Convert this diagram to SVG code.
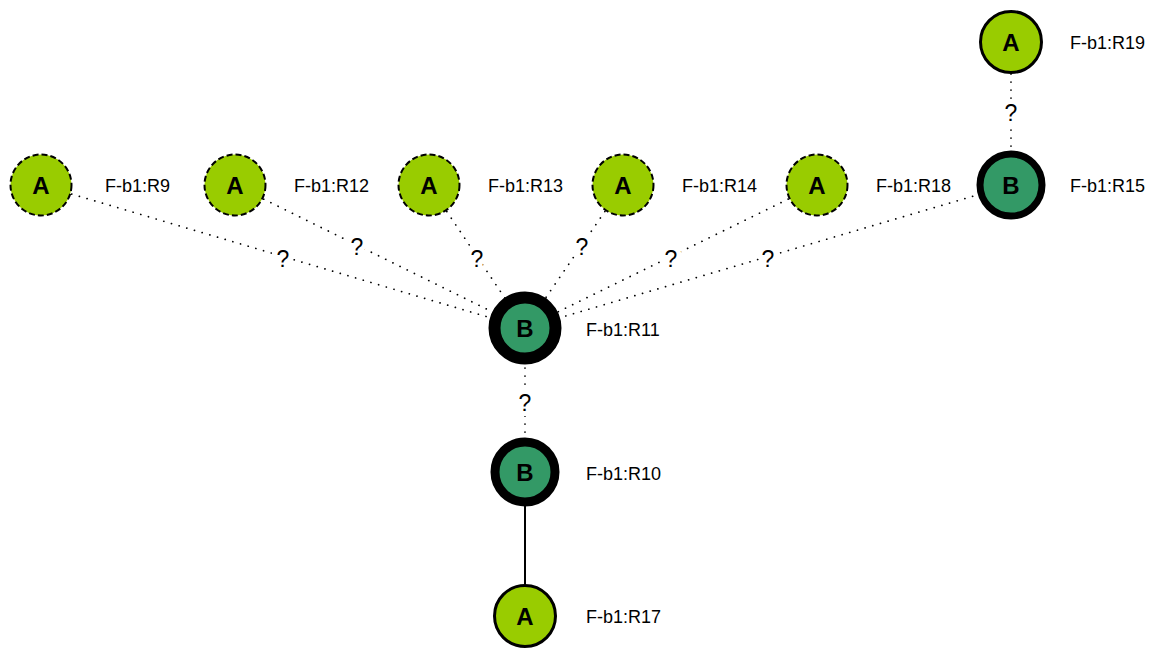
<svg xmlns="http://www.w3.org/2000/svg" width="1158" height="651" viewBox="0 0 1158 651">
<style>
.dot{stroke:#000;stroke-width:1.7;stroke-dasharray:0.1 7.9;stroke-linecap:round;fill:none}
.solid{stroke:#000;stroke-width:2;fill:none}
.q{font-family:"Liberation Sans",Arial,sans-serif;font-size:23px;text-anchor:middle;fill:#000;stroke:#fff;stroke-width:10;paint-order:stroke;stroke-linejoin:round}
.lbl{font-family:"Liberation Sans",Arial,sans-serif;font-size:18px;fill:#000}
.ltr{font-family:"Liberation Sans",Arial,sans-serif;font-size:24px;font-weight:bold;text-anchor:middle;fill:#000}
.a{fill:#99cc00;stroke:#000;stroke-width:3}
.ad{fill:#99cc00;stroke:#000;stroke-width:2;stroke-dasharray:6 3}
.b{fill:#339966;stroke:#000}
</style>
<rect width="1158" height="651" fill="#fff"/>
<g id="connectors">
<line class="dot" x1="41" y1="185" x2="525" y2="328"/>
<line class="dot" x1="235" y1="185" x2="525" y2="328"/>
<line class="dot" x1="429" y1="185" x2="525" y2="328"/>
<line class="dot" x1="623" y1="185" x2="525" y2="328"/>
<line class="dot" x1="817" y1="185" x2="525" y2="328"/>
<line class="dot" x1="1011" y1="185" x2="525" y2="328"/>
<line class="dot" x1="525" y1="328" x2="525" y2="472"/>
<line class="dot" x1="1011" y1="42" x2="1011" y2="185"/>
<line class="solid" x1="525" y1="472" x2="525" y2="616"/>
<text class="q" x="283" y="267">?</text>
<text class="q" x="357" y="255">?</text>
<text class="q" x="477" y="267">?</text>
<text class="q" x="582" y="255">?</text>
<text class="q" x="671" y="267">?</text>
<text class="q" x="768" y="267">?</text>
<text class="q" x="525" y="411">?</text>
<text class="q" x="1011" y="121">?</text>
</g>
<g id="R9"><circle class="ad" cx="41" cy="185" r="30.5"/><text class="ltr" x="41" y="194">A</text><text class="lbl" x="105" y="192">F-b1:R9</text></g>
<g id="R12"><circle class="ad" cx="235" cy="185" r="30.5"/><text class="ltr" x="235" y="194">A</text><text class="lbl" x="294" y="192">F-b1:R12</text></g>
<g id="R13"><circle class="ad" cx="429" cy="185" r="30.5"/><text class="ltr" x="429" y="194">A</text><text class="lbl" x="488" y="192">F-b1:R13</text></g>
<g id="R14"><circle class="ad" cx="623" cy="185" r="30.5"/><text class="ltr" x="623" y="194">A</text><text class="lbl" x="682" y="192">F-b1:R14</text></g>
<g id="R18"><circle class="ad" cx="817" cy="185" r="30.5"/><text class="ltr" x="817" y="194">A</text><text class="lbl" x="876" y="192">F-b1:R18</text></g>
<g id="R15"><circle class="b" stroke-width="7" cx="1011" cy="185" r="31"/><text class="ltr" x="1011" y="194">B</text><text class="lbl" x="1070" y="192">F-b1:R15</text></g>
<g id="R19"><circle class="a" cx="1011" cy="42" r="30.5"/><text class="ltr" x="1011" y="51">A</text><text class="lbl" x="1070" y="49">F-b1:R19</text></g>
<g id="R11"><circle class="b" stroke-width="12" cx="525" cy="328" r="30.5"/><text class="ltr" x="525" y="337">B</text><text class="lbl" x="586" y="336">F-b1:R11</text></g>
<g id="R10"><circle class="b" stroke-width="9" cx="525" cy="472" r="30"/><text class="ltr" x="525" y="481">B</text><text class="lbl" x="586" y="480">F-b1:R10</text></g>
<g id="R17"><circle class="a" cx="525" cy="616" r="30.5"/><text class="ltr" x="525" y="625">A</text><text class="lbl" x="586" y="623">F-b1:R17</text></g>
</svg>
